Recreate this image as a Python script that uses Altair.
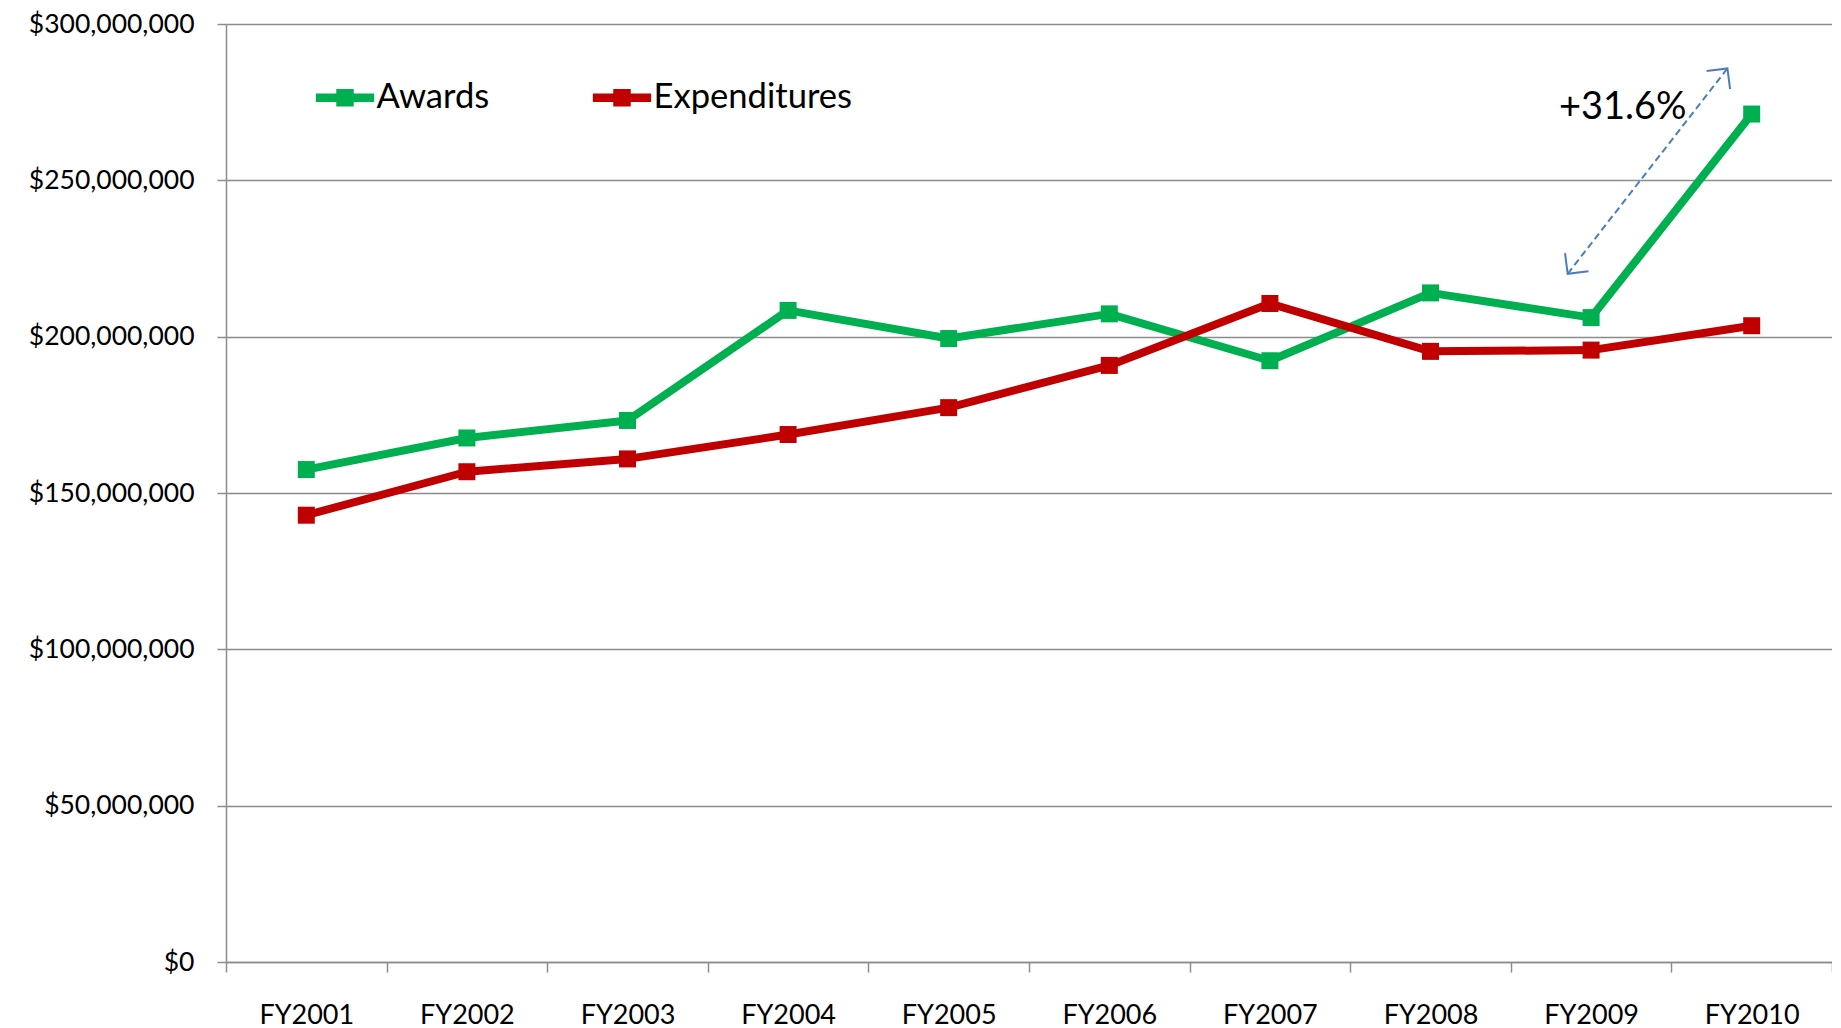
import altair as alt
import pandas as pd

years = ["FY2001", "FY2002", "FY2003", "FY2004", "FY2005",
         "FY2006", "FY2007", "FY2008", "FY2009", "FY2010"]
awards = [157.5, 167.6, 173.2, 208.4, 199.4, 207.3, 192.3, 214.0, 206.1, 271.2]  # $M
expenditures = [142.9, 156.8, 160.9, 168.7, 177.3, 190.8, 210.6, 195.3, 195.7, 203.5]  # $M
series_names = ["Awards", "Expenditures"]
series_colors = ["#00b050", "#c00000"]
y_ticks = [0, 50e6, 100e6, 150e6, 200e6, 250e6, 300e6]

annot_text = ["+31.6%"]
annot_x = [8.697]
annot_y = [273.0e6]
arrow_x = [8.354, 9.349]
arrow_y = [220.1e6, 285.8e6]
arrow_angle = [217.8, 37.8]

rows = []
for yr, a, e in zip(years, awards, expenditures):
    rows.append({"year": yr, "series": "Awards", "value": a * 1e6})
    rows.append({"year": yr, "series": "Expenditures", "value": e * 1e6})
df = pd.DataFrame(rows)
df_text = pd.DataFrame({"x": annot_x, "y": annot_y, "t": annot_text})
df_arrow = pd.DataFrame({"x": arrow_x, "y": arrow_y, "angle": arrow_angle})

FONT = "Lato"
GRID = "#8c8c8c"

yscale = alt.Scale(domain=[0, 300e6], nice=False, zero=True)
xband = alt.Scale(type="band", domain=years, paddingInner=0, paddingOuter=0)

x_axis = alt.Axis(title=None, labelAngle=0, tickBand="extent", tickSize=10,
                  tickColor=GRID, tickWidth=1.5, domainColor=GRID, domainWidth=1.5,
                  labelFont=FONT, labelFontSize=27, labelColor="black",
                  labelPadding=30, grid=False)
y_axis = alt.Axis(title=None, values=y_ticks, format="$,.0f", tickSize=9,
                  tickColor=GRID, tickWidth=1.5, domainColor=GRID, domainWidth=1.5,
                  gridColor=GRID, gridWidth=1.5, grid=True,
                  labelFont=FONT, labelFontSize=26.5, labelColor="black",
                  labelPadding=23)

color_scale = alt.Scale(domain=series_names, range=series_colors)

# legend symbol: a thick line with a square marker in its middle
legend_symbol = "M-1,-0.143H1V0.143H-1Z M-0.3,-0.3H0.3V0.3H-0.3Z"

lines = alt.Chart(df).mark_line(strokeWidth=8, strokeJoin="round", strokeCap="round").encode(
    x=alt.X("year:N", scale=xband, axis=x_axis, bandPosition=0.5, sort=years),
    y=alt.Y("value:Q", scale=yscale, axis=y_axis),
    color=alt.Color("series:N", scale=color_scale, legend=None),
)

points = alt.Chart(df).mark_point(shape="square", filled=True, size=289, opacity=1).encode(
    x=alt.X("year:N", scale=xband, axis=None, bandPosition=0.5, sort=years),
    y=alt.Y("value:Q", scale=yscale, axis=y_axis),
    color=alt.Color("series:N", scale=color_scale,
                    legend=alt.Legend(title=None, orient="none", legendX=89.5, legendY=43.8,
                                      direction="horizontal", symbolType=legend_symbol,
                                      symbolSize=3400, symbolOpacity=1, symbolStrokeWidth=0,
                                      labelFont=FONT, labelFontSize=34.6, labelColor="black",
                                      labelLimit=0, labelOffset=2, columnPadding=103,
                                      padding=0)),
)

xq = alt.Scale(domain=[0, 10], nice=False, zero=False)

text = alt.Chart(df_text).mark_text(font=FONT, fontSize=38, color="black",
                                    align="center", baseline="middle").encode(
    x=alt.X("x:Q", scale=xq, axis=None),
    y=alt.Y("y:Q", scale=yscale, axis=y_axis),
    text="t:N",
)

arrow_line = alt.Chart(df_arrow).mark_line(strokeWidth=2, strokeDash=[7, 4],
                                           color="#4a7ebb").encode(
    x=alt.X("x:Q", scale=xq, axis=None),
    y=alt.Y("y:Q", scale=yscale, axis=y_axis),
)

arrow_heads = alt.Chart(df_arrow).mark_point(shape="M-1,1L0,0L1,1", filled=False,
                                             strokeWidth=2, color="#4a7ebb",
                                             size=880, opacity=1).encode(
    x=alt.X("x:Q", scale=xq, axis=None),
    y=alt.Y("y:Q", scale=yscale, axis=y_axis),
    angle=alt.Angle("angle:Q", scale=None),
)

chart = alt.layer(lines, points, text, arrow_line, arrow_heads).resolve_scale(
    x="independent"
).resolve_legend(color="independent").properties(
    width=1606, height=938,
    autosize=alt.AutoSizeParams(type="none"),
    padding={"left": 218, "top": 16, "right": 0, "bottom": 66},
).configure_view(stroke=None)

chart.save("out.html", embed_options={"renderer": "svg", "actions": False})
